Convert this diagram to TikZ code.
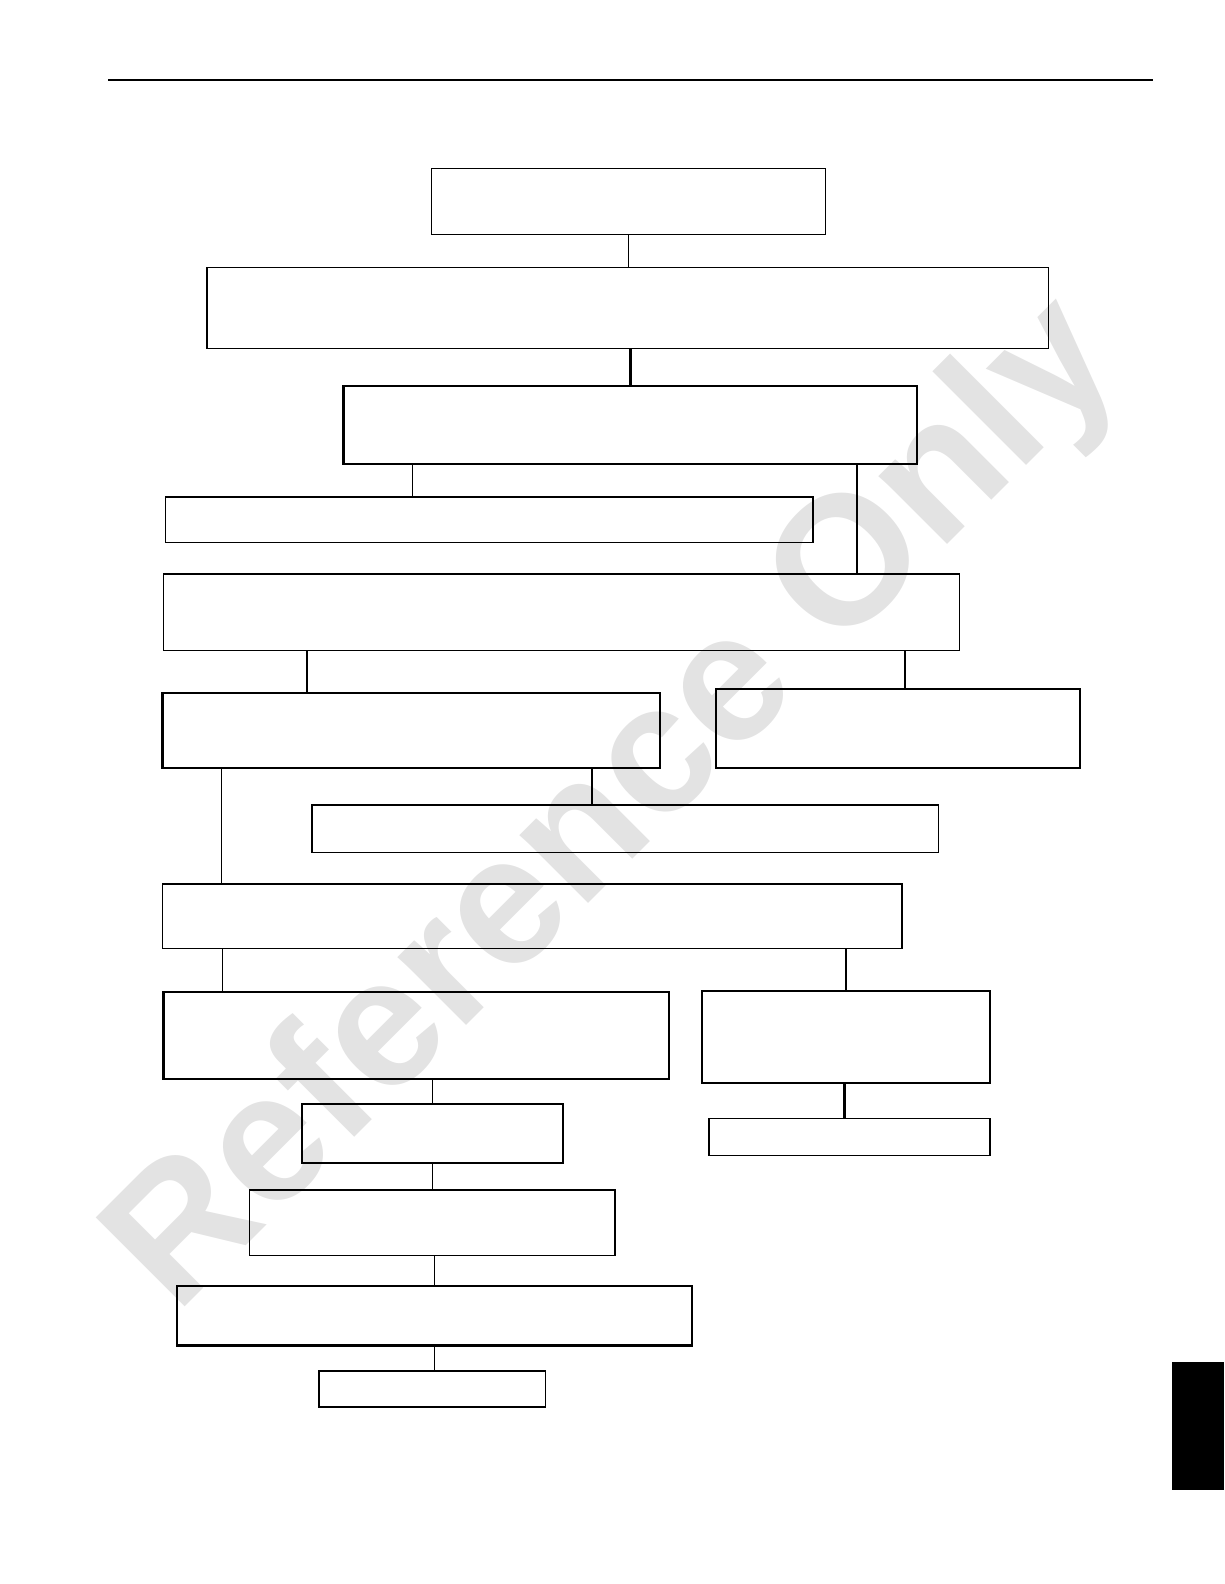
\documentclass[tikz,border=0pt]{standalone}
\usepackage{fontspec}
\newfontfamily\markfont{Liberation Sans}
\usetikzlibrary{positioning}

\tikzset{
	box/.style={draw, line width=1.5pt, inner sep=0pt},
	thickbox/.style={box, line width=2.3pt},
	link/.style={line width=1.3pt},
	thicklink/.style={line width=2.3pt}
}

\begin{document}
\begin{tikzpicture}[x=1pt, y=-1pt]
	\pgfmathsetmacro{\PageW}{1212}
	\pgfmathsetmacro{\PageH}{1568}
	\useasboundingbox (0,0) rectangle (\PageW,\PageH);
	% watermark
	\node[rotate=45, anchor=base west, inner sep=0pt, text=black!11] (mark) at (175,1302)
		{\markfont\bfseries\fontsize{181}{181}\selectfont Reference Only};
	% header rule and tab
	\draw[line width=2pt] (107,79) -- (1141,79);
	\fill[black] (1160,1348) rectangle (\PageW,1475);
	% boxes
	\node[box, minimum width=390, minimum height=65] (A) at (622,199.5) {};
	\node[box, minimum width=833, minimum height=80] (B) at (621.5,305) {};
	\node[thickbox, minimum width=568, minimum height=77] (C) at (624,420.5) {};
	\node[box, minimum width=641, minimum height=45] (D) at (484.5,514.5) {};
	\node[box, minimum width=788, minimum height=76] (E) at (556,606) {};
	\node[thickbox, minimum width=492, minimum height=74] (F) at (407,723) {};
	\node[box, minimum width=360, minimum height=78] (G) at (889,721) {};
	\node[box, minimum width=620, minimum height=47] (H) at (619,820.5) {};
	\node[box, minimum width=732, minimum height=64] (I) at (527,907) {};
	\node[thickbox, minimum width=500, minimum height=86] (J) at (412,1025) {};
	\node[box, minimum width=285, minimum height=91] (K) at (837.5,1026.5) {};
	\node[thickbox, minimum width=258, minimum height=58] (L) at (428,1122) {};
	\node[box, minimum width=278, minimum height=37] (M) at (841,1125.5) {};
	\node[box, minimum width=362, minimum height=65] (N) at (428,1210.5) {};
	\node[thickbox, minimum width=510, minimum height=59] (O) at (430,1302.5) {};
	\node[box, minimum width=224, minimum height=36] (P) at (428,1375) {};
	% connectors
	\draw[link] (A.south) -- (A.south |- B.north);
	\draw[thicklink] (C.north |- B.south) -- (C.north);
	\draw[link] (C.south -| 408,0) -- (D.north -| 408,0);
	\draw[thicklink] (C.south -| 848,0) -- (E.north -| 848,0);
	\draw[thicklink] (E.south -| 304,0) -- (F.north -| 304,0);
	\draw[link] (E.south -| 896,0) -- (G.north -| 896,0);
	\draw[line width=1pt] (F.south -| 219,0) -- (I.north -| 219,0);
	\draw[thicklink] (F.south -| 586,0) -- (H.north -| 586,0);
	\draw[link] (I.south -| 220,0) -- (J.north -| 220,0);
	\draw[link] (I.south -| K.north) -- (K.north);
	\draw[link] (J.south -| L.north) -- (L.north);
	\draw[thicklink] (K.south -| 836,0) -- (M.north -| 836,0);
	\draw[link] (L.south) -- (N.north);
	\draw[link] (N.south -| 430,0) -- (O.north -| 430,0);
	\draw[link] (O.south -| 430,0) -- (P.north -| 430,0);
\end{tikzpicture}
\end{document}
